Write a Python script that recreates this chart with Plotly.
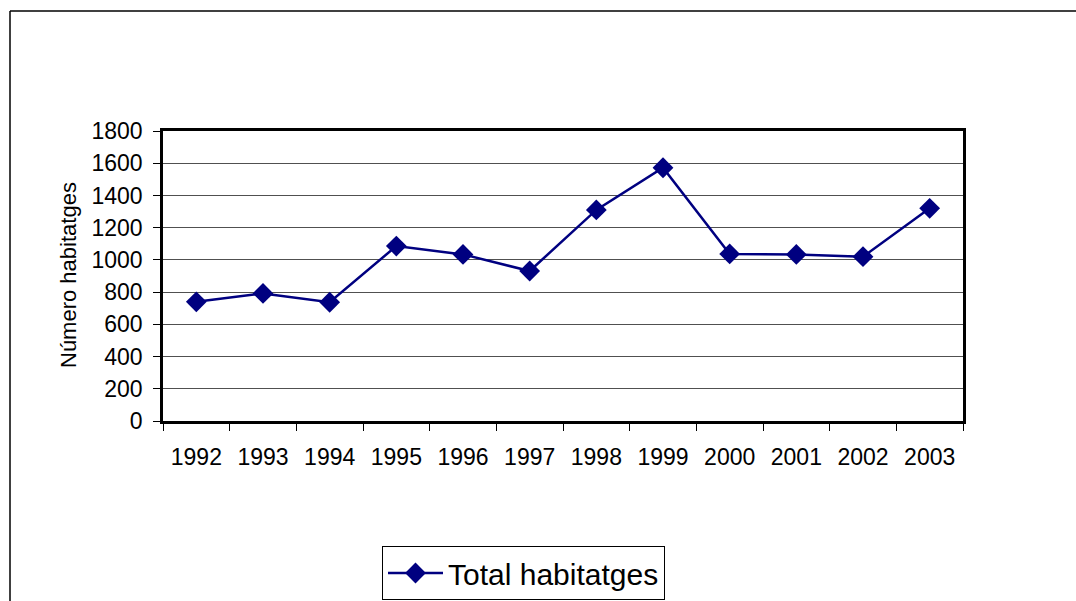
import plotly.graph_objects as go

years = ["1992", "1993", "1994", "1995", "1996", "1997", "1998", "1999", "2000", "2001", "2002", "2003"]
total_habitatges = [740, 792, 737, 1086, 1034, 931, 1310, 1572, 1037, 1034, 1020, 1320]
y_ticks = [0, 200, 400, 600, 800, 1000, 1200, 1400, 1600, 1800]
y_title = "Número habitatges"

W, H = 1076, 601
# plot area in window pixels: x 163..963, y 131..421
L, T = 163, 131
R = W - 963
B = H - 421
pw, ph = W - L - R, H - T - B

def px_x(px):
    return (px - L) / pw

def px_y(py):
    return (H - B - py) / ph

font = "Arial, 'Liberation Sans', sans-serif"

fig = go.Figure()
fig.add_trace(go.Scatter(
    x=years, y=total_habitatges, mode="lines+markers",
    name="Total habitatges",
    line=dict(color="#000080", width=2.5),
    marker=dict(symbol="diamond", size=16, color="#000080"),
))

fig.update_layout(
    width=W, height=H,
    margin=dict(l=L, r=R, t=T, b=B, pad=0, autoexpand=False),
    paper_bgcolor="white", plot_bgcolor="white",
    font=dict(family=font, color="black"),
    showlegend=True,
    legend=dict(
        xref="container", yref="container",
        x=382 / W, y=1 - 546 / H, xanchor="left", yanchor="top",
        bordercolor="black", borderwidth=1, bgcolor="white",
        font=dict(size=30, family=font),
        itemwidth=55,
    ),
    xaxis=dict(
        type="category", tickson="boundaries",
        showgrid=False, showline=True, linecolor="black", linewidth=2.5, mirror=True,
        ticks="outside", ticklen=7, tickcolor="black", tickwidth=1,
        tickfont=dict(size=23, family=font),
        ticklabelstandoff=14,
        range=[-0.5, 11.5],
    ),
    yaxis=dict(
        range=[0, 1800], tickvals=y_ticks,
        showgrid=True, gridcolor="#505050", gridwidth=1,
        showline=True, linecolor="black", linewidth=2.5, mirror=True,
        ticks="outside", ticklen=7, tickcolor="black", tickwidth=1,
        tickfont=dict(size=23, family=font),
        ticklabelstandoff=6,
        zeroline=False,
    ),
    annotations=[
        dict(text=y_title, xref="paper", yref="paper",
             x=px_x(68), y=px_y(275), xanchor="center", yanchor="middle",
             textangle=-90, showarrow=False, font=dict(size=22, family=font)),
    ],
    shapes=[
        dict(type="line", xref="paper", yref="paper",
             x0=px_x(10), y0=px_y(601), x1=px_x(10), y1=px_y(11),
             line=dict(color="black", width=1.5)),
        dict(type="line", xref="paper", yref="paper",
             x0=px_x(10), y0=px_y(11), x1=px_x(1076), y1=px_y(11),
             line=dict(color="black", width=1.5)),
    ],
)

fig.write_html(
    "out.html",
    config={"displayModeBar": False},
    post_script="document.body.style.margin='0';document.body.style.overflow='hidden';",
)
